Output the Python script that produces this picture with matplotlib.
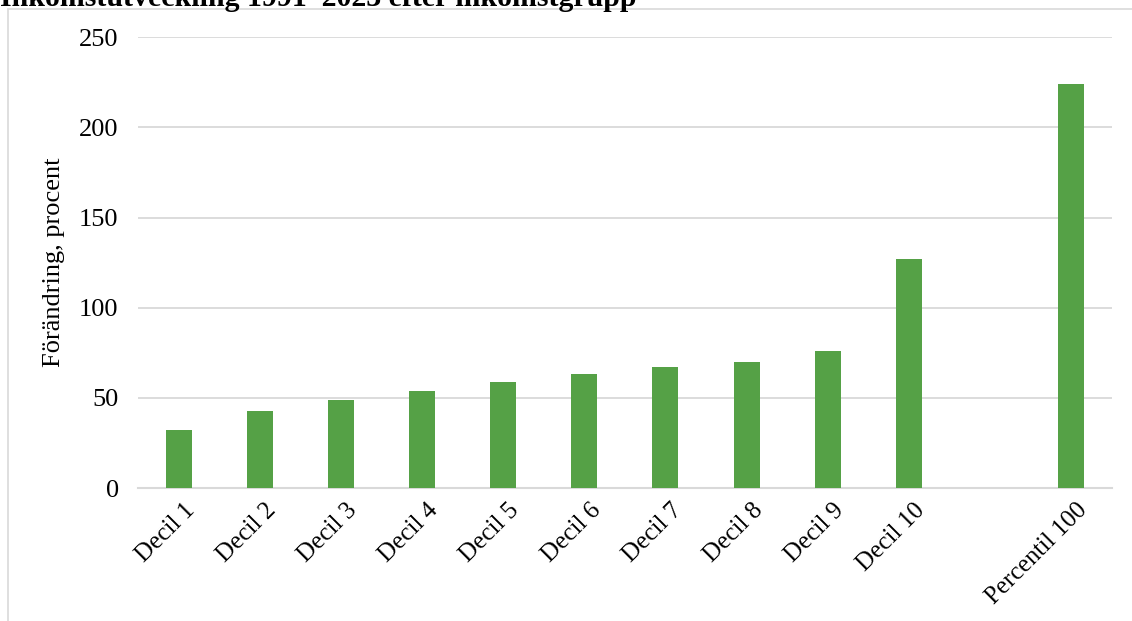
import numpy as np
import matplotlib.pyplot as plt
from matplotlib.patches import Rectangle
import matplotlib.transforms as mtransforms

plt.rcParams["font.family"] = ["Liberation Serif", "DejaVu Serif"]

CATEGORIES = ["Decil 1", "Decil 2", "Decil 3", "Decil 4", "Decil 5", "Decil 6",
              "Decil 7", "Decil 8", "Decil 9", "Decil 10", "", "Percentil 100"]
CHANGE = [32, 43, 49, 54, 59, 63, 67, 70, 76, 127, np.nan, 224]

GREEN = "#55a146"
GRID = "#d9d9d9"

fig = plt.figure(figsize=(11.32, 6.21), dpi=100)
ax = fig.add_axes([0.122, 0.214, 0.860, 0.726])

# chart frame (light border, as in the spreadsheet export)
fig.patches.append(Rectangle((8 / 1132, -0.05), 1.2, 1 - 9 / 621 + 0.05,
                             transform=fig.transFigure, fill=False,
                             edgecolor=GRID, lw=1.2))

x = np.arange(len(CATEGORIES))
ax.bar(x, CHANGE, width=0.32, color=GREEN, zorder=3)

ax.set_xlim(-0.5, len(CATEGORIES) - 0.5)
ax.set_ylim(0, 250)
ax.set_yticks(np.arange(0, 251, 50))
ax.grid(axis="y", color=GRID, lw=1.3, zorder=0)
for s in ["top", "right", "left"]:
    ax.spines[s].set_visible(False)
ax.spines["bottom"].set_color(GRID)
ax.spines["bottom"].set_linewidth(1.5)
ax.tick_params(axis="both", length=0, labelsize=19)
ax.tick_params(axis="y", pad=14)

ax.set_xticks(x)
ax.set_xticklabels(CATEGORIES, rotation=45, ha="right", va="top",
                   rotation_mode="anchor", fontsize=18)
offset = mtransforms.ScaledTranslation(0.05, -0.06, fig.dpi_scale_trans)
for lbl in ax.get_xticklabels():
    lbl.set_transform(lbl.get_transform() + offset)

ax.set_ylabel("Förändring, procent", fontsize=19, labelpad=10)

fig.text(0.0, 1 - 5.5 / 621, "Inkomstutveckling 1991–2023 efter inkomstgrupp",
         fontsize=21.5, fontweight="bold", ha="left", va="baseline")

fig.savefig("out.png", dpi=100)
